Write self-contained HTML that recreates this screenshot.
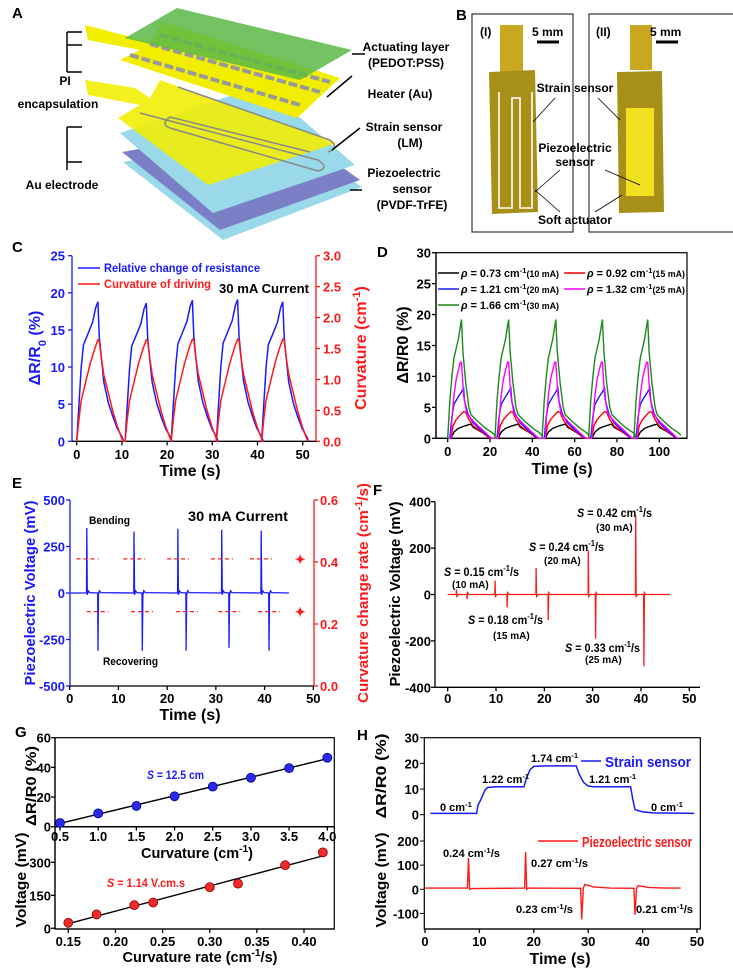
<!DOCTYPE html>
<html><head><meta charset="utf-8"><style>
html,body{margin:0;padding:0;background:#fff}
svg{display:block;font-family:"Liberation Sans",Arial,sans-serif;font-weight:bold}
</style></head><body>
<svg id="fig" width="733" height="968" viewBox="0 0 733 968" xmlns="http://www.w3.org/2000/svg">
<g id="panelA">
 <text x="12" y="18" font-size="15">A</text>
 <polygon points="123,162 282,134 362,187 223,240" fill="#9ad9ea"/>
 <polygon points="122,152 282,124 360,180 220,230" fill="#7b7fc6"/>
 <polygon points="120,133 262,85 355,165 213,213" fill="#9ad9ea"/>
 <polygon points="85,80 135,88 150,98 160,80 337,143 208,185 118,118 140,105 88,95" fill="#f2ee00" opacity="0.88"/>
 <path d="M140,113 L318,160 Q330,168 318,171 L170,128 Q160,124 170,117 L310,152 M178,87 L330,140 Q340,148 328,152" fill="none" stroke="#888" stroke-width="1.5"/>
 <polygon points="85,25 150,42 163,22 340,78 297,118 120,60 140,50 88,40" fill="#f2ee00"/>
 <path d="M130,55 L300,105 M150,44 L320,92 M160,35 L330,82" fill="none" stroke="#999" stroke-width="4" stroke-dasharray="9 3"/>
 <polygon points="125,38 177,8 352,50 300,80" fill="#5cb848" opacity="0.85"/>
 <g stroke="#000" stroke-width="1.5" fill="none">
  <path d="M67,32 L67,72 M67,32 L82,32 M67,45 L82,45 M67,72 L82,72"/>
  <path d="M67,127 L67,170 M67,127 L82,127 M67,162 L82,162"/>
  <path d="M365,54 L352,54 M352,76 L327,97 M360,128 L332,150 M362,190 L350,190"/>
 </g>
 <g font-size="12" text-anchor="middle">
  <text x="65" y="85">PI</text><text x="58" y="108">encapsulation</text><text x="62" y="189">Au electrode</text>
  <text x="406" y="51">Actuating layer</text><text x="406" y="67">(PEDOT:PSS)</text>
  <text x="400" y="98">Heater (Au)</text>
  <text x="404" y="131">Strain sensor</text><text x="410" y="147">(LM)</text>
  <text x="404" y="177">Piezoelectric</text><text x="412" y="193">sensor</text><text x="412" y="209">(PVDF-TrFE)</text>
 </g>
</g>
<g id="panelB">
 <text x="456" y="20" font-size="15">B</text>
 <rect x="472" y="14" width="101" height="218" fill="none" stroke="#333" stroke-width="1.2"/>
 <rect x="589" y="14" width="145" height="218" fill="none" stroke="#333" stroke-width="1.2"/>
 <rect x="500" y="25" width="23" height="47" fill="#c9a820"/>
 <polygon points="489,72 535,70 538,212 492,214" fill="#a89018"/>
 <path d="M499,92 L499,208 L512,208 L512,98 L520,98 L520,208 L532,208 L532,92" fill="none" stroke="#fff" stroke-width="1.6"/>
 <rect x="630" y="25" width="22" height="45" fill="#c9a820"/>
 <polygon points="617,72 662,71 664,212 619,213" fill="#a89018"/>
 <rect x="626" y="108" width="28" height="88" fill="#f2e020"/>
 <g font-size="12">
  <text x="480" y="36">(I)</text><text x="532" y="36">5 mm</text>
  <text x="596" y="36">(II)</text><text x="650" y="36">5 mm</text>
  <text x="575" y="92" text-anchor="middle">Strain sensor</text>
  <text x="575" y="152" text-anchor="middle">Piezoelectric</text>
  <text x="575" y="166" text-anchor="middle">sensor</text>
  <text x="575" y="224" text-anchor="middle">Soft actuator</text>
 </g>
 <path d="M537,42 L559,42 M656,42 L678,42" stroke="#000" stroke-width="3"/>
 <path d="M555,98 L533,122 M598,98 L620,120 M560,170 L535,192 M605,170 L640,185 M560,212 L535,190 M595,212 L622,195" stroke="#000" stroke-width="0.8"/>
</g>
<g id="charts"></g>
</svg>
<script>
// ---------- DATA ----------
// Panel C
const cCycleStarts = [0, 10.7, 20.9, 30.9, 40.9];
const cBluePeaks = [18.8, 18.6, 19.0, 19.1, 18.8];
const cRedPeaks = [1.64, 1.64, 1.65, 1.65, 1.65];
const cBlueT = [0, 0.5, 1, 1.5, 2.5, 3.5, 4.2, 4.7, 5.0, 5.5, 6, 7, 8, 9, 10, 10.4];
const cBlueV = [0, 5, 10, 13, 14.5, 16, 18, 18.8, 14, 11, 8, 5.2, 3.3, 1.7, 0.6, 0];
const cRedT = [0, 0.5, 1, 2, 3, 4, 4.7, 5, 5.5, 6, 7, 8, 9, 10, 10.3];
const cRedV = [0, 0.36, 0.66, 0.96, 1.26, 1.5, 1.64, 1.62, 1.32, 1.08, 0.78, 0.48, 0.24, 0.04, 0];
const cYTicks = [0, 5, 10, 15, 20, 25];
const cY2Ticks = ["0.0", "0.5", "1.0", "1.5", "2.0", "2.5", "3.0"];
const cXTicks = [0, 10, 20, 30, 40, 50];
// Panel D
const dCycleStarts = [0, 22.3, 44.6, 66.6, 88];
const dSeriesNames = ["0.73", "0.92", "1.21", "1.32", "1.66"];
const dCurrents = ["10 mA", "15 mA", "20 mA", "25 mA", "30 mA"];
const dBlackT = [0, 1.5, 3, 5, 8, 11, 12, 14, 17, 20, 21];
const dBlackV = [0, 0, 1, 1.6, 2, 2.3, 1.8, 1.4, 0.8, 0.1, 0];
const dRedT = [0, 1.5, 2.5, 4, 6, 7.5, 8.5, 10, 12, 16, 20];
const dRedV = [0, 0, 2, 3, 3.8, 4.3, 4.2, 3, 2, 1, 0];
const dBlueT = [0, 1, 2, 3, 5, 6.5, 7.5, 8, 9.5, 12, 16, 20, 21];
const dBlueV = [0, 0, 3.5, 5.5, 6.7, 7.5, 8.1, 6, 4, 2.5, 1.2, 0.1, 0];
const dMagT = [0, 1.5, 2, 3, 4, 5, 6, 6.5, 7.5, 9, 12, 16, 20, 21];
const dMagV = [0, 0, 3, 7, 9.5, 11, 12.3, 12.3, 7, 4, 2.8, 1.5, 0.2, 0];
const dGreenT = [0, 1, 2, 3, 5, 6.5, 7.2, 8.5, 10, 11, 14, 18, 21, 22.2];
const dGreenV = [0, 6, 10, 13, 16, 19.2, 14, 9, 5, 3.8, 2.8, 1.6, 0.9, 0.5];
const dYTicks = [0, 5, 10, 15, 20, 25, 30];
const dXTicks = [0, 20, 40, 60, 80, 100];
// Panel E
const ePosT = [3.5, 13.2, 22.2, 31.2, 39.3];
const ePosV = [350, 330, 345, 340, 335];
const eNegT = [5.8, 14.9, 23.9, 32.7, 40.9];
const eNegV = [-310, -310, -310, -295, -310];
const eUpperDashT = [1.4, 11.0, 20.0, 29.0, 37.0];
const eLowerDashT = [3.5, 12.6, 21.8, 30.5, 38.7];
const eRates = [0.41, 0.24];
const eYTicks = [500, 250, 0, -250, -500];
const eY2Ticks = ["0.0", "0.2", "0.4", "0.6"];
const eXTicks = [0, 10, 20, 30, 40, 50];
// Panel F
const fSpikeT = [1.8, 4.0, 9.8, 12.3, 18.3, 20.8, 29.1, 30.6, 38.9, 40.6];
const fSpikeV = [22, -20, 60, -55, 115, -110, 190, -190, 340, -310];
const fYTicks = [400, 200, 0, -200, -400];
const fXTicks = [0, 10, 20, 30, 40, 50];
// Panel G
const gCurv = [0.5, 1.0, 1.5, 2.0, 2.5, 3.0, 3.5, 4.0];
const gResp = [2.5, 9, 14, 20.5, 27, 33, 39.5, 46.5];
const gRate = [0.15, 0.18, 0.22, 0.24, 0.30, 0.33, 0.38, 0.42];
const gVolt = [25, 63, 105, 117, 187, 203, 287, 345];
const gTopXTicks = ["0.5", "1.0", "1.5", "2.0", "2.5", "3.0", "3.5", "4.0"];
const gTopYTicks = [0, 20, 40, 60];
const gBotXTicks = ["0.15", "0.20", "0.25", "0.30", "0.35", "0.40"];
const gBotYTicks = [0, 150, 300];
// Panel H
const hStrainT = [1, 9.5, 9.7, 10.3, 11, 11.5, 13, 18.2, 18.6, 19.3, 20, 22, 27.8, 28.4, 29.2, 30, 31, 37.8, 38.2, 38.6, 40, 42, 49.5];
const hStrainV = [0.5, 0.5, 3.5, 6, 9.5, 10.6, 10.9, 10.9, 14, 17.5, 18.8, 19, 19, 15.5, 12.5, 11.2, 10.9, 10.9, 6, 2, 1.1, 0.7, 0.5];
const hPiezoT = [0, 7.8, 8.0, 8.2, 8.5, 18.3, 18.5, 18.7, 19, 28.6, 28.8, 29.1, 29.4, 31, 34, 38.4, 38.6, 38.9, 39.2, 41, 44, 47];
const hPiezoV = [5, 5, 130, 0, 3, 5, 155, 0, 5, 4, -125, 5, 20, 10, 5, 4, -105, 5, 15, 8, 5, 5];
const hTopYTicks = [0, 10, 20, 30];
const hBotYTicks = [-100, 0, 100, 200];
const hXTicks = [0, 10, 20, 30, 40, 50];

// ---------- HELPERS ----------
const NS = "http://www.w3.org/2000/svg";
const root = document.getElementById("charts");
const TF = 13;
function lin(d0, d1, r0, r1) { return v => r0 + (v - d0) * (r1 - r0) / (d1 - d0); }
function el(tag, attrs, parent) {
  const e = document.createElementNS(NS, tag);
  for (const k in attrs) e.setAttribute(k, attrs[k]);
  (parent || root).appendChild(e);
  return e;
}
function pathD(ts, vs, xs, ys) {
  return ts.map((t, i) => (i ? "L" : "M") + xs(t).toFixed(1) + "," + ys(vs[i]).toFixed(1)).join("");
}
function txt(x, y, html, size, fill, anchor, parent, rot, len) {
  const t = el("text", { x: x, y: y, "font-size": size, fill: fill || "#000", "text-anchor": anchor || "start" }, parent);
  if (rot) t.setAttribute("transform", "rotate(-90," + x + "," + y + ")");
  if (len) { t.setAttribute("textLength", len); t.setAttribute("lengthAdjust", "spacingAndGlyphs"); }
  t.innerHTML = html;
  return t;
}
const SUP = s => '<tspan baseline-shift="super" font-size="70%">' + s + '</tspan>';
const SUB = s => '<tspan baseline-shift="sub" font-size="70%">' + s + '</tspan>';

function axisY(g, x, ticks, ys, color, side, labelX) {
  el("line", { x1: x, y1: ys.top, x2: x, y2: ys.bot, stroke: color, "stroke-width": 1.3 }, g);
  ticks.forEach(v => {
    const y = ys(parseFloat(v));
    el("line", { x1: x, y1: y, x2: x + (side < 0 ? -4 : 4), y2: y, stroke: color, "stroke-width": 1.3 }, g);
    txt(labelX, y + 5, String(v), TF, color, side < 0 ? "end" : "start", g);
  });
}
function axisX(g, y, x0, x1, ticks, xs, labelY) {
  el("line", { x1: x0, y1: y, x2: x1, y2: y, stroke: "#000", "stroke-width": 1.3 }, g);
  ticks.forEach(v => {
    const x = xs(parseFloat(v));
    el("line", { x1: x, y1: y, x2: x, y2: y + 4, stroke: "#000", "stroke-width": 1.3 }, g);
    txt(x, labelY, String(v), TF, "#000", "middle", g);
  });
}
function cyclePath(starts, tt, vv, scales, xs, ys) {
  let T = [], V = [];
  starts.forEach((s, i) => tt.forEach((t, j) => { T.push(s + t); V.push(vv[j] * (scales ? scales[i] : 1)); }));
  return pathD(T, V, xs, ys);
}

// ---------- PANEL C ----------
{
  const g = el("g", {});
  
  
  txt(12, 252, "C", 15, "#000", "start", g);
  const xs = lin(0, 50, 76.7, 302.7), ys = lin(0, 25, 441.3, 255.7), ys2 = lin(0, 3, 441.3, 255.7);
  ys.top = ys2.top = 255.7; ys.bot = ys2.bot = 441.3;
  axisY(g, 72, cYTicks, ys, "#1a1aff", -1, 65);
  axisY(g, 316, cY2Ticks, ys2, "#ff1a1a", 1, 323);
  axisX(g, 441.3, 72, 316, cXTicks, xs, 459);
  const blue = el("path", { d: cyclePath(cCycleStarts, cBlueT, cBlueV, cBluePeaks.map(p => p / 18.8), xs, ys), fill: "none", stroke: "#1a1aff", "stroke-width": 1.5 }, g);
  
  
  const red = el("path", { d: cyclePath(cCycleStarts, cRedT, cRedV, cRedPeaks.map(p => p / 1.64), xs, ys2), fill: "none", stroke: "#ff1a1a", "stroke-width": 1.5 }, g);
  
  
  el("line", { x1: 78, y1: 268, x2: 100, y2: 268, stroke: "#1a1aff", "stroke-width": 1.5 }, g);
  txt(104, 272, "Relative change of resistance", 12, "#1a1aff", "start", g, false, 156);
  el("line", { x1: 78, y1: 284, x2: 100, y2: 284, stroke: "#ff1a1a", "stroke-width": 1.5 }, g);
  txt(104, 288, "Curvature of driving", 12, "#ff1a1a", "start", g, false, 107);
  txt(219, 293, "30 mA Current", 13, "#000", "start", g, false, 90);
  txt(40, 348, "ΔR/R" + SUB("0") + " (%)", 16, "#1a1aff", "middle", g, true);
  txt(366, 348, "Curvature (cm" + SUP("-1") + ")", 16, "#ff1a1a", "middle", g, true);
  txt(190, 476, "Time (s)", 16, "#000", "middle", g);
}
// ---------- PANEL D ----------
{
  const g = el("g", {});
  
  
  txt(377, 257, "D", 15, "#000", "start", g);
  const xs = lin(0, 100, 447.7, 659.3), ys = lin(0, 30, 438.3, 252.7);
  ys.top = 252.7; ys.bot = 438.3;
  el("rect", { x: 436, y: 252.7, width: 251, height: 185.6, fill: "none", stroke: "#000", "stroke-width": 1.2 }, g);
  axisY(g, 436, dYTicks, ys, "#000", -1, 431);
  axisX(g, 438.3, 436, 687, dXTicks, xs, 456);
  const colors = ["#000", "#ff0000", "#1a1aff", "#ff00ff", "#1a8a1a"];
  const TT = [dBlackT, dRedT, dBlueT, dMagT, dGreenT], VV = [dBlackV, dRedV, dBlueV, dMagV, dGreenV];
  const clip = el("clipPath", { id: "clipD" }, g);
  el("rect", { x: 436, y: 252, width: 251, height: 187 }, clip);
  TT.forEach((tt, i) => {
    const p = el("path", { d: cyclePath(dCycleStarts, tt, VV[i], null, xs, ys), fill: "none", stroke: colors[i], "stroke-width": 1.4, "clip-path": "url(#clipD)" }, g);
    
    
  });
  const lx = [438, 564, 438, 564, 438], ly = [273, 273, 289, 289, 305];
  dSeriesNames.forEach((n, i) => {
    const le = el("line", { x1: lx[i], y1: ly[i], x2: lx[i] + 21, y2: ly[i], stroke: colors[i], "stroke-width": 1.5 }, g);
    
    
    txt(lx[i] + 23, ly[i] + 4, "<tspan font-style='italic'>ρ</tspan> = " + n + " cm" + SUP("-1") + "<tspan font-size='9'>(" + dCurrents[i] + ")</tspan>", 11, "#000", "start", g, false, 98);
  });
  txt(408, 345, "ΔR/R0 (%)", 16, "#000", "middle", g, true);
  txt(562, 474, "Time (s)", 16, "#000", "middle", g);
}
// ---------- PANEL E ----------
{
  const g = el("g", {});
  
  
  txt(12, 488, "E", 15, "#000", "start", g);
  const xs = lin(0, 50, 69.7, 313.3), ys = lin(-500, 500, 686, 500), ys2 = lin(0, 0.6, 686, 500);
  ys.top = ys2.top = 500; ys.bot = ys2.bot = 686;
  axisY(g, 70, eYTicks, ys, "#1a1aff", -1, 65);
  axisY(g, 314, eY2Ticks, ys2, "#ff1a1a", 1, 320);
  axisX(g, 686, 70, 314, eXTicks, xs, 703);
  let ev = [];
  ePosT.forEach((t, i) => ev.push([t, ePosV[i]]));
  eNegT.forEach((t, i) => ev.push([t, eNegV[i]]));
  ev.sort((a, b) => a[0] - b[0]);
  let T = [0], V = [0];
  ev.forEach(e => { T.push(e[0] - 0.05, e[0], e[0] + 0.12, e[0] + 0.3, e[0] + 0.6); V.push(0, e[1], -10, 12, 2); });
  T.push(45); V.push(0);
  const p = el("path", { d: pathD(T, V, xs, ys), fill: "none", stroke: "#1a1aff", "stroke-width": 1.3 }, g);
  
  
  [eUpperDashT, eLowerDashT].forEach((arr, k) => arr.forEach(t => {
    const d = el("line", { x1: xs(t), y1: ys2(eRates[k]), x2: xs(t + 4.5), y2: ys2(eRates[k]), stroke: "#ff1a1a", "stroke-width": 1.3, "stroke-dasharray": "4 3" }, g);
    
    
  }));
  eRates.forEach(r => {
    const s = txt(xs(47.3), ys2(r) + 5, "✦", 13, "#ff1a1a", "middle", g);
    
    
  });
  txt(89, 524, "Bending", 11, "#000", "start", g, false, 41);
  txt(103, 665, "Recovering", 11, "#000", "start", g, false, 55);
  txt(188, 521, "30 mA Current", 14, "#000", "start", g, false, 100);
  txt(35, 593, "Piezoelectric Voltage (mV)", 15, "#1a1aff", "middle", g, true, 185);
  txt(368, 593, "Curvature change rate (cm" + SUP("-1") + "/s)", 15, "#ff1a1a", "middle", g, true, 220);
  txt(190, 720, "Time (s)", 16, "#000", "middle", g);
}
// ---------- PANEL F ----------
{
  const g = el("g", {});
  
  
  txt(373, 495, "F", 15, "#000", "start", g);
  const xs = lin(0, 50, 447.7, 689.3), ys = lin(-400, 400, 687.3, 501.7);
  ys.top = 501.7; ys.bot = 687.3;
  axisY(g, 435, fYTicks, ys, "#000", -1, 431);
  axisX(g, 687.3, 435, 700, fXTicks, xs, 703);
  let T = [0], V = [0];
  fSpikeT.forEach((t, i) => { T.push(t - 0.05, t, t + 0.1, t + 0.4); V.push(0, fSpikeV[i], fSpikeV[i] > 0 ? -8 : 8, 0); });
  T.push(46); V.push(0);
  const p = el("path", { d: pathD(T, V, xs, ys), fill: "none", stroke: "#ff1a1a", "stroke-width": 1.3 }, g);
  
  
  const lab = [[444, 576, "0.15", 452, 588, "10"], [468, 624, "0.18", 493, 639, "15"], [529, 551, "0.24", 544, 564, "20"], [577, 517, "0.42", 596, 531, "30"], [565, 652, "0.33", 585, 663, "25"]];
  lab.forEach(l => {
    txt(l[0], l[1], "<tspan font-style='italic'>S</tspan> = " + l[2] + " cm" + SUP("-1") + "/s", 12, "#000", "start", g, false, 75);
    txt(l[3], l[4], "(" + l[5] + " mA)", 10, "#000", "start", g);
  });
  txt(400, 594, "Piezoelectric Voltage (mV)", 15, "#000", "middle", g, true, 185);
}
// ---------- PANEL G ----------
{
  const g = el("g", {});
  
  
  txt(15, 737, "G", 15, "#000", "start", g);
  const xs = lin(0.5, 4.0, 60, 327.3), ys = lin(0, 60, 826.7, 737.7);
  ys.top = 737.7; ys.bot = 826.7;
  el("rect", { x: 55, y: 737.7, width: 279.3, height: 89, fill: "none", stroke: "#000", "stroke-width": 1.2 }, g);
  axisY(g, 55, gTopYTicks, ys, "#000", -1, 51);
  axisX(g, 826.7, 55, 334.3, gTopXTicks, xs, 841);
  const xb = lin(0.15, 0.40, 68.3, 304), yb = lin(0, 300, 928.3, 862.3);
  yb.top = 826.7; yb.bot = 929;
  el("rect", { x: 55, y: 826.7, width: 279.3, height: 102.3, fill: "none", stroke: "#000", "stroke-width": 1.2 }, g);
  axisY(g, 55, gBotYTicks, yb, "#000", -1, 51);
  axisX(g, 929, 55, 334.3, gBotXTicks, xb, 946);
  function fit(X, Y) {
    const n = X.length, mx = X.reduce((a, b) => a + b) / n, my = Y.reduce((a, b) => a + b) / n;
    let sxy = 0, sxx = 0; X.forEach((x, i) => { sxy += (x - mx) * (Y[i] - my); sxx += (x - mx) * (x - mx); });
    const m = sxy / sxx; return [m, my - m * mx];
  }
  const f1 = fit(gCurv, gResp), f2 = fit(gRate, gVolt);
  const l1 = el("line", { x1: xs(gCurv[0]), y1: ys(f1[0] * gCurv[0] + f1[1]), x2: xs(gCurv[7]), y2: ys(f1[0] * gCurv[7] + f1[1]), stroke: "#000", "stroke-width": 1.4 }, g);
  
  
  const l2 = el("line", { x1: xb(gRate[0]), y1: yb(f2[0] * gRate[0] + f2[1]), x2: xb(gRate[7]), y2: yb(f2[0] * gRate[7] + f2[1]), stroke: "#000", "stroke-width": 1.4 }, g);
  
  
  gCurv.forEach((c, i) => {
    const d = el("circle", { cx: xs(c), cy: ys(gResp[i]), r: 4.5, fill: "#2a2aee", stroke: "#00008a", "stroke-width": 0.8 }, g);
    
    
  });
  gRate.forEach((c, i) => {
    const d = el("circle", { cx: xb(c), cy: yb(gVolt[i]), r: 4.5, fill: "#ee2a2a", stroke: "#8a0000", "stroke-width": 0.8 }, g);
    
    
  });
  txt(147, 779, "<tspan font-style='italic'>S</tspan> = 12.5 cm", 12, "#1a1aff", "start", g, false, 57);
  txt(107, 887, "<tspan font-style='italic'>S</tspan> = 1.14 V.cm.s", 12, "#ff1a1a", "start", g, false, 78);
  txt(197, 858, "Curvature (cm" + SUP("-1") + ")", 15, "#000", "middle", g, false, 112);
  txt(200, 962, "Curvature rate (cm" + SUP("-1") + "/s)", 15, "#000", "middle", g, false, 155);
  txt(36, 786, "ΔR/R0 (%)", 15, "#000", "middle", g, true, 80);
  txt(26, 880, "Voltage (mV)", 15, "#000", "middle", g, true, 95);
}
// ---------- PANEL H ----------
{
  const g = el("g", {});
  
  
  txt(357, 740, "H", 15, "#000", "start", g);
  const xs = lin(0, 50, 425, 697), yt = lin(0, 30, 814.7, 737.7), yb = lin(0, 200, 889.3, 841);
  el("rect", { x: 424.3, y: 737.7, width: 276, height: 191.3, fill: "none", stroke: "#000", "stroke-width": 1.2 }, g);
  hTopYTicks.forEach(v => { const y = yt(v); el("line", { x1: 424.3, y1: y, x2: 420, y2: y, stroke: "#000" }, g); txt(419, y + 5, String(v), TF, "#000", "end", g); });
  hBotYTicks.forEach(v => { const y = yb(v); el("line", { x1: 424.3, y1: y, x2: 420, y2: y, stroke: "#000" }, g); txt(419, y + 5, String(v), TF, "#000", "end", g); });
  axisX(g, 929, 424.3, 700.3, hXTicks, xs, 946);
  const s = el("path", { d: pathD(hStrainT, hStrainV, xs, yt), fill: "none", stroke: "#1a1aff", "stroke-width": 1.5 }, g);
  
  
  const p = el("path", { d: pathD(hPiezoT, hPiezoV, xs, yb), fill: "none", stroke: "#ff1a1a", "stroke-width": 1.4 }, g);
  
  
  el("line", { x1: 581, y1: 761, x2: 601, y2: 761, stroke: "#1a1aff", "stroke-width": 1.5 }, g);
  txt(605, 767, "Strain sensor", 15, "#1a1aff", "start", g, false, 86);
  el("line", { x1: 538, y1: 841, x2: 578, y2: 841, stroke: "#ff1a1a", "stroke-width": 1.5 }, g);
  txt(582, 847, "Piezoelectric sensor", 15, "#ff1a1a", "start", g, false, 110);
  [[440, 811, "0"], [482, 783, "1.22"], [531, 762, "1.74"], [589, 783, "1.21"], [651, 811, "0"]].forEach(l => txt(l[0], l[1], l[2] + " cm" + SUP("-1"), 11, "#000", "start", g));
  [[443, 857, "0.24"], [531, 867, "0.27"], [516, 913, "0.23"], [636, 913, "0.21"]].forEach(l => txt(l[0], l[1], l[2] + " cm" + SUP("-1") + "/s", 11, "#000", "start", g, false, 57));
  txt(386, 776, "ΔR/R0 (%)", 15, "#000", "middle", g, true, 85);
  txt(386, 880, "Voltage (mV)", 15, "#000", "middle", g, true, 95);
  txt(560, 964, "Time (s)", 16, "#000", "middle", g);
}
</script>
</body></html>
